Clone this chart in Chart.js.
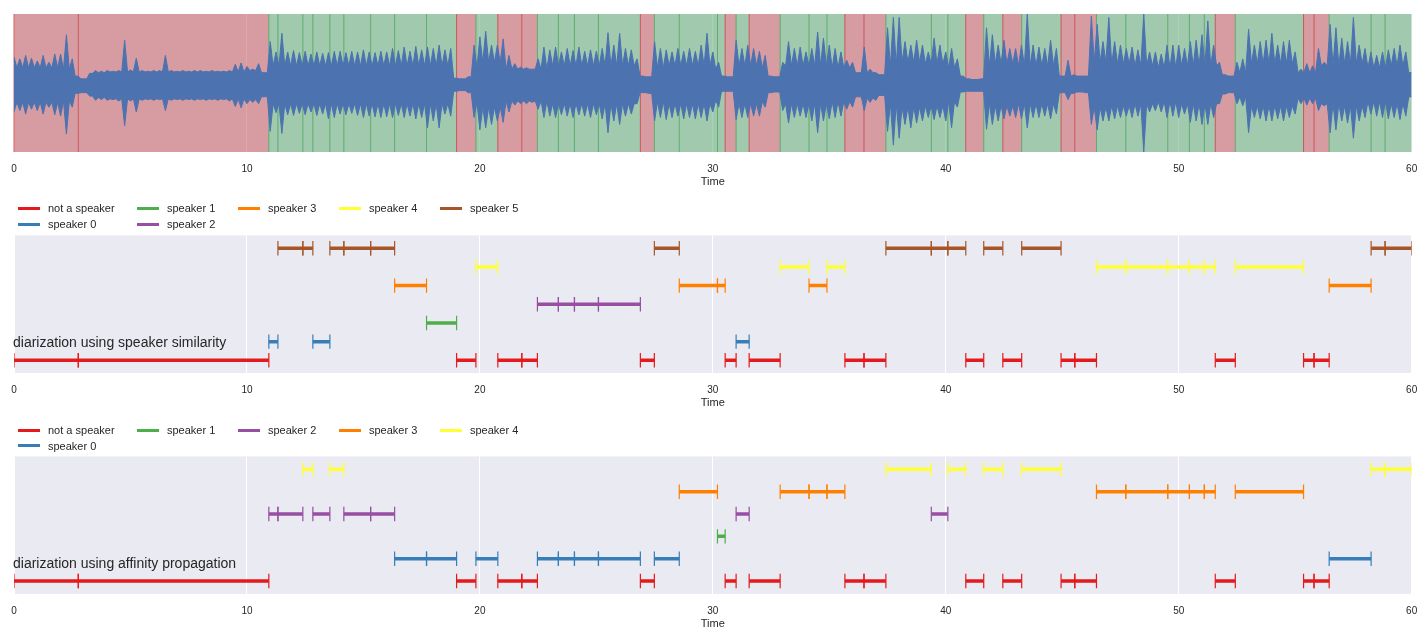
<!DOCTYPE html>
<html><head><meta charset="utf-8">
<script src="https://cdn.jsdelivr.net/npm/chart.js@4.4.1/dist/chart.umd.min.js"></script>
<style>
body{margin:0;background:#fff;width:1428px;height:636px;overflow:hidden;position:relative;font-family:"Liberation Sans",Arial,sans-serif;}
canvas{position:absolute;left:0;}
.li{position:absolute;font-size:11px;color:#262626;height:14px;line-height:14px;white-space:nowrap;}
.li .h{position:absolute;left:0;top:5.5px;width:22px;height:3px;}
.li .t{position:absolute;left:30px;top:0;}
</style></head><body>
<canvas id="c1" width="1428" height="188" style="top:6px"></canvas>
<canvas id="c2" width="1428" height="188" style="top:227px"></canvas>
<canvas id="c3" width="1428" height="188" style="top:448px"></canvas>
<div id="leg2"></div><div id="leg3"></div>
<script>
// ---- data ----
const boundaries = [0, 2.76, 10.94, 11.33, 12.40, 12.83, 13.56, 14.16, 15.31, 16.34,
  17.71, 19.00, 19.83, 20.77, 21.80, 22.47, 23.37, 24.06, 25.09, 26.89,
  27.49, 28.56, 30.20, 30.53, 31.00, 31.56, 32.89, 34.13, 34.90, 35.67,
  36.49, 37.43, 39.38, 40.09, 40.86, 41.63, 42.45, 43.26, 44.95, 45.54,
  46.47, 47.73, 49.53, 50.46, 51.10, 51.57, 52.43, 55.36, 55.81, 56.46,
  58.26, 58.86, 60];
// -1 = not a speaker
const similarityIds = [-1,-1,0,5,5,0,5,5,5,3, 1,-1,4,-1,-1,2,2,2,2,-1, 5,3,3,-1,0,-1,4,3,4,-1,
  -1,5,5,5,-1,5,-1,5,-1,-1, 4,4,4,4,4,-1,4,-1,-1,3, 5,5];
const affinityIds = [-1,-1,2,2,4,2,4,2,2,0, 0,-1,0,-1,-1,0,0,0,0,-1, 0,3,1,-1,2,-1,3,3,3,-1,
  -1,4,2,4,-1,4,-1,4,-1,-1, 3,3,3,3,3,-1,3,-1,-1,0, 4,4];
const similarityNames = ['not a speaker','speaker 0','speaker 1','speaker 2','speaker 3','speaker 4','speaker 5'];
const affinityNames = ['not a speaker','speaker 0','speaker 1','speaker 2','speaker 3','speaker 4'];
const speakerColors = ['#E41A1C','#377EB8','#4DAF4A','#984EA3','#FF7F00','#FFFF33','#A65628'];
const xTickStep = 10;
// waveform peak envelope, one value per 0.25 s
const waveStep = 0.25;
const waveUpper = [
 0.38,0.35,0.40,0.36, 0.32,0.40,0.30,0.42, 0.42,0.70,0.35,0.10, 0.06,0.14,0.18,0.17,
 0.18,0.17,0.18,0.62, 0.19,0.36,0.18,0.17, 0.18,0.18,0.40,0.18, 0.17,0.18,0.17,0.18,
 0.18,0.17,0.18,0.17, 0.17,0.18,0.27,0.29, 0.24,0.20,0.28,0.15, 0.60,0.45,0.72,0.45,
 0.47,0.44,0.46,0.42, 0.45,0.43,0.44,0.46, 0.46,0.44,0.46,0.45, 0.48,0.45,0.44,0.46,
 0.45,0.50,0.47,0.52, 0.46,0.53,0.48,0.52, 0.50,0.55,0.48,0.50, 0.07,0.06,0.09,0.55,
 0.67,0.75,0.55,0.55, 0.64,0.40,0.28,0.23, 0.22,0.20,0.35,0.52, 0.48,0.52,0.45,0.50,
 0.47,0.52,0.46,0.48, 0.46,0.50,0.73,0.55, 0.72,0.50,0.48,0.35, 0.10,0.09,0.60,0.50,
 0.48,0.45,0.50,0.46, 0.50,0.46,0.55,0.72, 0.45,0.30,0.10,0.09, 0.62,0.50,0.55,0.50,
 0.46,0.40,0.10,0.09, 0.30,0.60,0.50,0.52, 0.45,0.50,0.74,0.65, 0.55,0.50,0.45,0.33,
 0.30,0.15,0.52,0.20, 0.15,0.12,0.80,0.95, 0.95,0.60,0.55,0.62, 0.55,0.45,0.65,0.55,
 0.45,0.50,0.35,0.10, 0.06,0.05,0.06,0.80, 0.70,0.55,0.62,0.50, 0.50,0.55,1.00,0.55,
 0.52,0.50,0.62,0.50, 0.10,0.33,0.12,0.10, 0.10,0.97,0.85,0.60, 0.95,0.60,0.55,0.50,
 0.52,0.48,1.00,0.45, 0.45,0.42,0.55,0.55, 0.55,0.50,0.60,0.62, 0.70,0.90,0.55,0.30,
 0.12,0.10,0.30,0.35, 0.78,0.55,0.60,0.62, 0.72,0.55,0.60,0.62, 0.45,0.20,0.28,0.25,
 0.50,0.30,0.85,0.80, 0.65,0.60,0.95,0.55, 0.50,0.45,0.40,0.45, 0.48,0.50,0.55,0.45,
 0.15];
const waveLower = [
 -0.42,-0.40,-0.45,-0.38, -0.40,-0.45,-0.35,-0.46, -0.48,-0.74,-0.35,-0.15, -0.14,-0.19,-0.25,-0.24,
 -0.25,-0.24,-0.26,-0.62, -0.26,-0.42,-0.25,-0.24, -0.25,-0.24,-0.40,-0.25, -0.24,-0.25,-0.24,-0.25,
 -0.24,-0.25,-0.24,-0.25, -0.24,-0.26,-0.34,-0.36, -0.30,-0.28,-0.30,-0.20, -0.70,-0.43,-0.73,-0.46,
 -0.47,-0.44,-0.46,-0.42, -0.47,-0.45,-0.52,-0.50, -0.45,-0.46,-0.44,-0.47, -0.50,-0.48,-0.49,-0.50,
 -0.49,-0.50,-0.47,-0.50, -0.48,-0.52,-0.50,-0.65, -0.55,-0.65,-0.45,-0.48, -0.12,-0.11,-0.14,-0.50,
 -0.68,-0.65,-0.60,-0.55, -0.57,-0.42,-0.32,-0.30, -0.30,-0.28,-0.38,-0.50, -0.48,-0.50,-0.46,-0.48,
 -0.50,-0.46,-0.48,-0.50, -0.46,-0.52,-0.72,-0.55, -0.60,-0.48,-0.45,-0.30, -0.14,-0.15,-0.55,-0.50,
 -0.53,-0.50,-0.48,-0.52, -0.50,-0.52,-0.50,-0.55, -0.42,-0.35,-0.12,-0.12, -0.53,-0.50,-0.50,-0.48,
 -0.48,-0.35,-0.14,-0.13, -0.40,-0.58,-0.50,-0.48, -0.50,-0.55,-0.72,-0.55, -0.52,-0.50,-0.48,-0.38,
 -0.35,-0.20,-0.40,-0.28, -0.25,-0.18,-0.70,-0.90, -0.80,-0.60,-0.65,-0.58, -0.55,-0.50,-0.53,-0.50,
 -0.55,-0.65,-0.35,-0.13, -0.12,-0.12,-0.12,-0.67, -0.60,-0.55,-0.52,-0.48, -0.50,-0.52,-0.65,-0.50,
 -0.50,-0.48,-0.52,-0.45, -0.14,-0.24,-0.15,-0.13, -0.14,-0.60,-0.68,-0.55, -0.55,-0.52,-0.50,-0.48,
 -0.50,-0.48,-1.00,-0.42, -0.40,-0.42,-0.50,-0.48, -0.50,-0.45,-0.57,-0.55, -0.60,-0.60,-0.50,-0.30,
 -0.16,-0.14,-0.30,-0.33, -0.72,-0.50,-0.52,-0.55, -0.55,-0.52,-0.55,-0.50, -0.45,-0.30,-0.32,-0.30,
 -0.40,-0.33,-0.72,-0.68, -0.55,-0.58,-0.80,-0.55, -0.50,-0.45,-0.48,-0.50, -0.52,-0.50,-0.53,-0.48,
 -0.20];
// solid core of the waveform between peaks, one value per second (0..60)
const coreUpper = [0.22,0.22,0.20,0.15,0.16,0.16,0.16,0.16,0.16,0.16, 0.18,0.25,0.25,0.25,0.25,0.25,0.25,0.25,0.25,0.22,
  0.30,0.20,0.20,0.25,0.25,0.25,0.25,0.22,0.25,0.25, 0.20,0.25,0.22,0.25,0.25,0.22,0.15,0.25,0.30,0.28,
  0.22,0.25,0.28,0.25,0.25,0.10,0.30,0.28,0.25,0.22, 0.25,0.25,0.15,0.28,0.28,0.15,0.25,0.28,0.22,0.25, 0.15];
const coreLower = [-0.28,-0.28,-0.26,-0.21,-0.23,-0.23,-0.23,-0.23,-0.23,-0.23, -0.24,-0.30,-0.30,-0.30,-0.30,-0.30,-0.30,-0.30,-0.30,-0.28,
  -0.35,-0.26,-0.26,-0.30,-0.30,-0.30,-0.30,-0.27,-0.30,-0.30, -0.25,-0.30,-0.27,-0.30,-0.30,-0.27,-0.22,-0.30,-0.35,-0.33,
  -0.27,-0.30,-0.33,-0.30,-0.30,-0.15,-0.35,-0.33,-0.30,-0.27, -0.30,-0.30,-0.20,-0.33,-0.33,-0.22,-0.30,-0.33,-0.27,-0.30, -0.20];

// ---- styling / helpers ----
const FONT = '"Liberation Sans", Arial, sans-serif';
const TXT = '#262626';
const bgPlugin = {
  id: 'bg',
  beforeDraw(chart) {
    const a = chart.chartArea, ctx = chart.ctx;
    ctx.save(); ctx.fillStyle = '#EAEAF2';
    ctx.fillRect(a.left, a.top, a.right - a.left, a.bottom - a.top);
    ctx.restore();
  }
};
function xScale() {
  return {
    type: 'linear', min: 0, max: 60,
    ticks: { stepSize: xTickStep, color: TXT, font: { family: FONT, size: 10 }, padding: 10.8 },
    grid: { color: '#ffffff', lineWidth: 1, drawTicks: false },
    border: { display: false },
    title: { display: true, text: 'Time', color: TXT, font: { family: FONT, size: 11 }, padding: { top: 0, bottom: 3.4 } },
    afterFit(s) { s.height = 40; }
  };
}
const baseOpts = {
  responsive: false, animation: false, devicePixelRatio: 1,
  layout: { padding: { top: 8, left: 14, right: 14, bottom: 2 } },
  plugins: { legend: { display: false }, tooltip: { enabled: false } },
  events: []
};

// ---- top: waveform with segment spans ----
const spanPlugin = {
  id: 'spans',
  beforeDatasetsDraw(chart) {
    const { ctx, chartArea: a, scales: { x } } = chart;
    ctx.save();
    for (let i = 0; i < similarityIds.length; i++) {
      const x0 = x.getPixelForValue(boundaries[i]);
      const x1 = x.getPixelForValue(boundaries[i + 1]);
      ctx.fillStyle = similarityIds[i] < 0 ? 'rgba(196,78,82,0.5)' : 'rgba(85,168,104,0.5)';
      ctx.fillRect(x0, a.top, x1 - x0, a.bottom - a.top);
    }
    ctx.lineWidth = 1;
    for (let i = 0; i < similarityIds.length; i++) {
      const x0 = x.getPixelForValue(boundaries[i]);
      ctx.strokeStyle = similarityIds[i] < 0 ? 'rgba(205,70,78,0.85)' : 'rgba(80,168,100,0.85)';
      ctx.beginPath(); ctx.moveTo(x0, a.top); ctx.lineTo(x0, a.bottom); ctx.stroke();
    }
    ctx.restore();
  }
};
// outline: a peak at every sample, the solid core level between samples
function outline(peaks, core, pick) {
  const pts = [];
  for (let i = 0; i < peaks.length; i++) {
    const t = i * waveStep;
    pts.push({ x: t, y: peaks[i] });
    if (i + 1 < peaks.length) {
      const tm = t + waveStep / 2;
      pts.push({ x: tm, y: pick(core[Math.floor(tm)], peaks[i], peaks[i + 1]) });
    }
  }
  return pts;
}
new Chart(document.getElementById('c1'), {
  type: 'line',
  data: { datasets: [
    { data: outline(waveUpper, coreUpper, Math.min), borderColor: '#4C72B0', backgroundColor: '#4C72B0', borderWidth: 1, pointRadius: 0, fill: '+1', tension: 0 },
    { data: outline(waveLower, coreLower, Math.max), borderColor: '#4C72B0', backgroundColor: '#4C72B0', borderWidth: 1, pointRadius: 0, fill: false, tension: 0 }
  ]},
  options: Object.assign({}, baseOpts, {
    scales: { x: xScale(), y: { display: false, min: -1, max: 1 } }
  }),
  plugins: [bgPlugin, spanPlugin]
});

// ---- diarization panels ----
function segDatasets(ids, names) {
  return names.map((name, k) => {
    const id = k - 1, data = [];
    ids.forEach((s, i) => {
      if (s === id) {
        data.push({ x: boundaries[i], y: k }, { x: boundaries[i + 1], y: k }, { x: boundaries[i + 1], y: null });
      }
    });
    const c = speakerColors[k];
    return { label: name, data, borderColor: c, backgroundColor: c, borderWidth: 3.5, borderCapStyle: 'butt',
      pointStyle: 'line', pointRadius: 7.2, pointRotation: 90, pointBorderWidth: 1.2, pointBorderColor: c,
      pointHoverRadius: 0, spanGaps: false, fill: false, tension: 0 };
  });
}
function textPlugin(txt) {
  return {
    id: 'txt',
    afterDatasetsDraw(chart) {
      const { ctx, chartArea: a, scales: { x } } = chart;
      ctx.save();
      ctx.font = '14px ' + FONT; ctx.fillStyle = TXT; ctx.textBaseline = 'middle';
      ctx.fillText(txt, x.getPixelForValue(0) - 1, a.bottom - 0.222 * (a.bottom - a.top) + 1);
      ctx.restore();
    }
  };
}
function diarChart(id, ids, names, yMin, yMax, txt) {
  new Chart(document.getElementById(id), {
    type: 'line',
    data: { datasets: segDatasets(ids, names) },
    options: Object.assign({}, baseOpts, {
      scales: { x: xScale(), y: { display: false, min: yMin, max: yMax } }
    }),
    plugins: [bgPlugin, textPlugin(txt)]
  });
}
diarChart('c2', similarityIds, similarityNames, -0.68, 6.69, 'diarization using speaker similarity');
diarChart('c3', affinityIds, affinityNames, -0.58, 5.58, 'diarization using affinity propagation');

// ---- legends (matplotlib-style, 5 columns, column-major) ----
function buildLegend(el, names, rowY) {
  const colX = [18, 137, 238, 339, 440];
  const ncol = 5, n = names.length;
  const base = Math.floor(n / ncol), extra = n % ncol;
  let idx = 0;
  for (let c = 0; c < ncol; c++) {
    const cnt = base + (c < extra ? 1 : 0);
    for (let r = 0; r < cnt; r++, idx++) {
      const d = document.createElement('div');
      d.className = 'li';
      d.style.left = colX[c] + 'px';
      d.style.top = (rowY[r] - 7) + 'px';
      d.innerHTML = '<span class="h" style="background:' + speakerColors[idx] + '"></span><span class="t"></span>';
      d.querySelector('.t').textContent = names[idx];
      el.appendChild(d);
    }
  }
}
buildLegend(document.getElementById('leg2'), similarityNames, [208, 224]);
buildLegend(document.getElementById('leg3'), affinityNames, [430, 445.5]);
</script>
</body></html>
